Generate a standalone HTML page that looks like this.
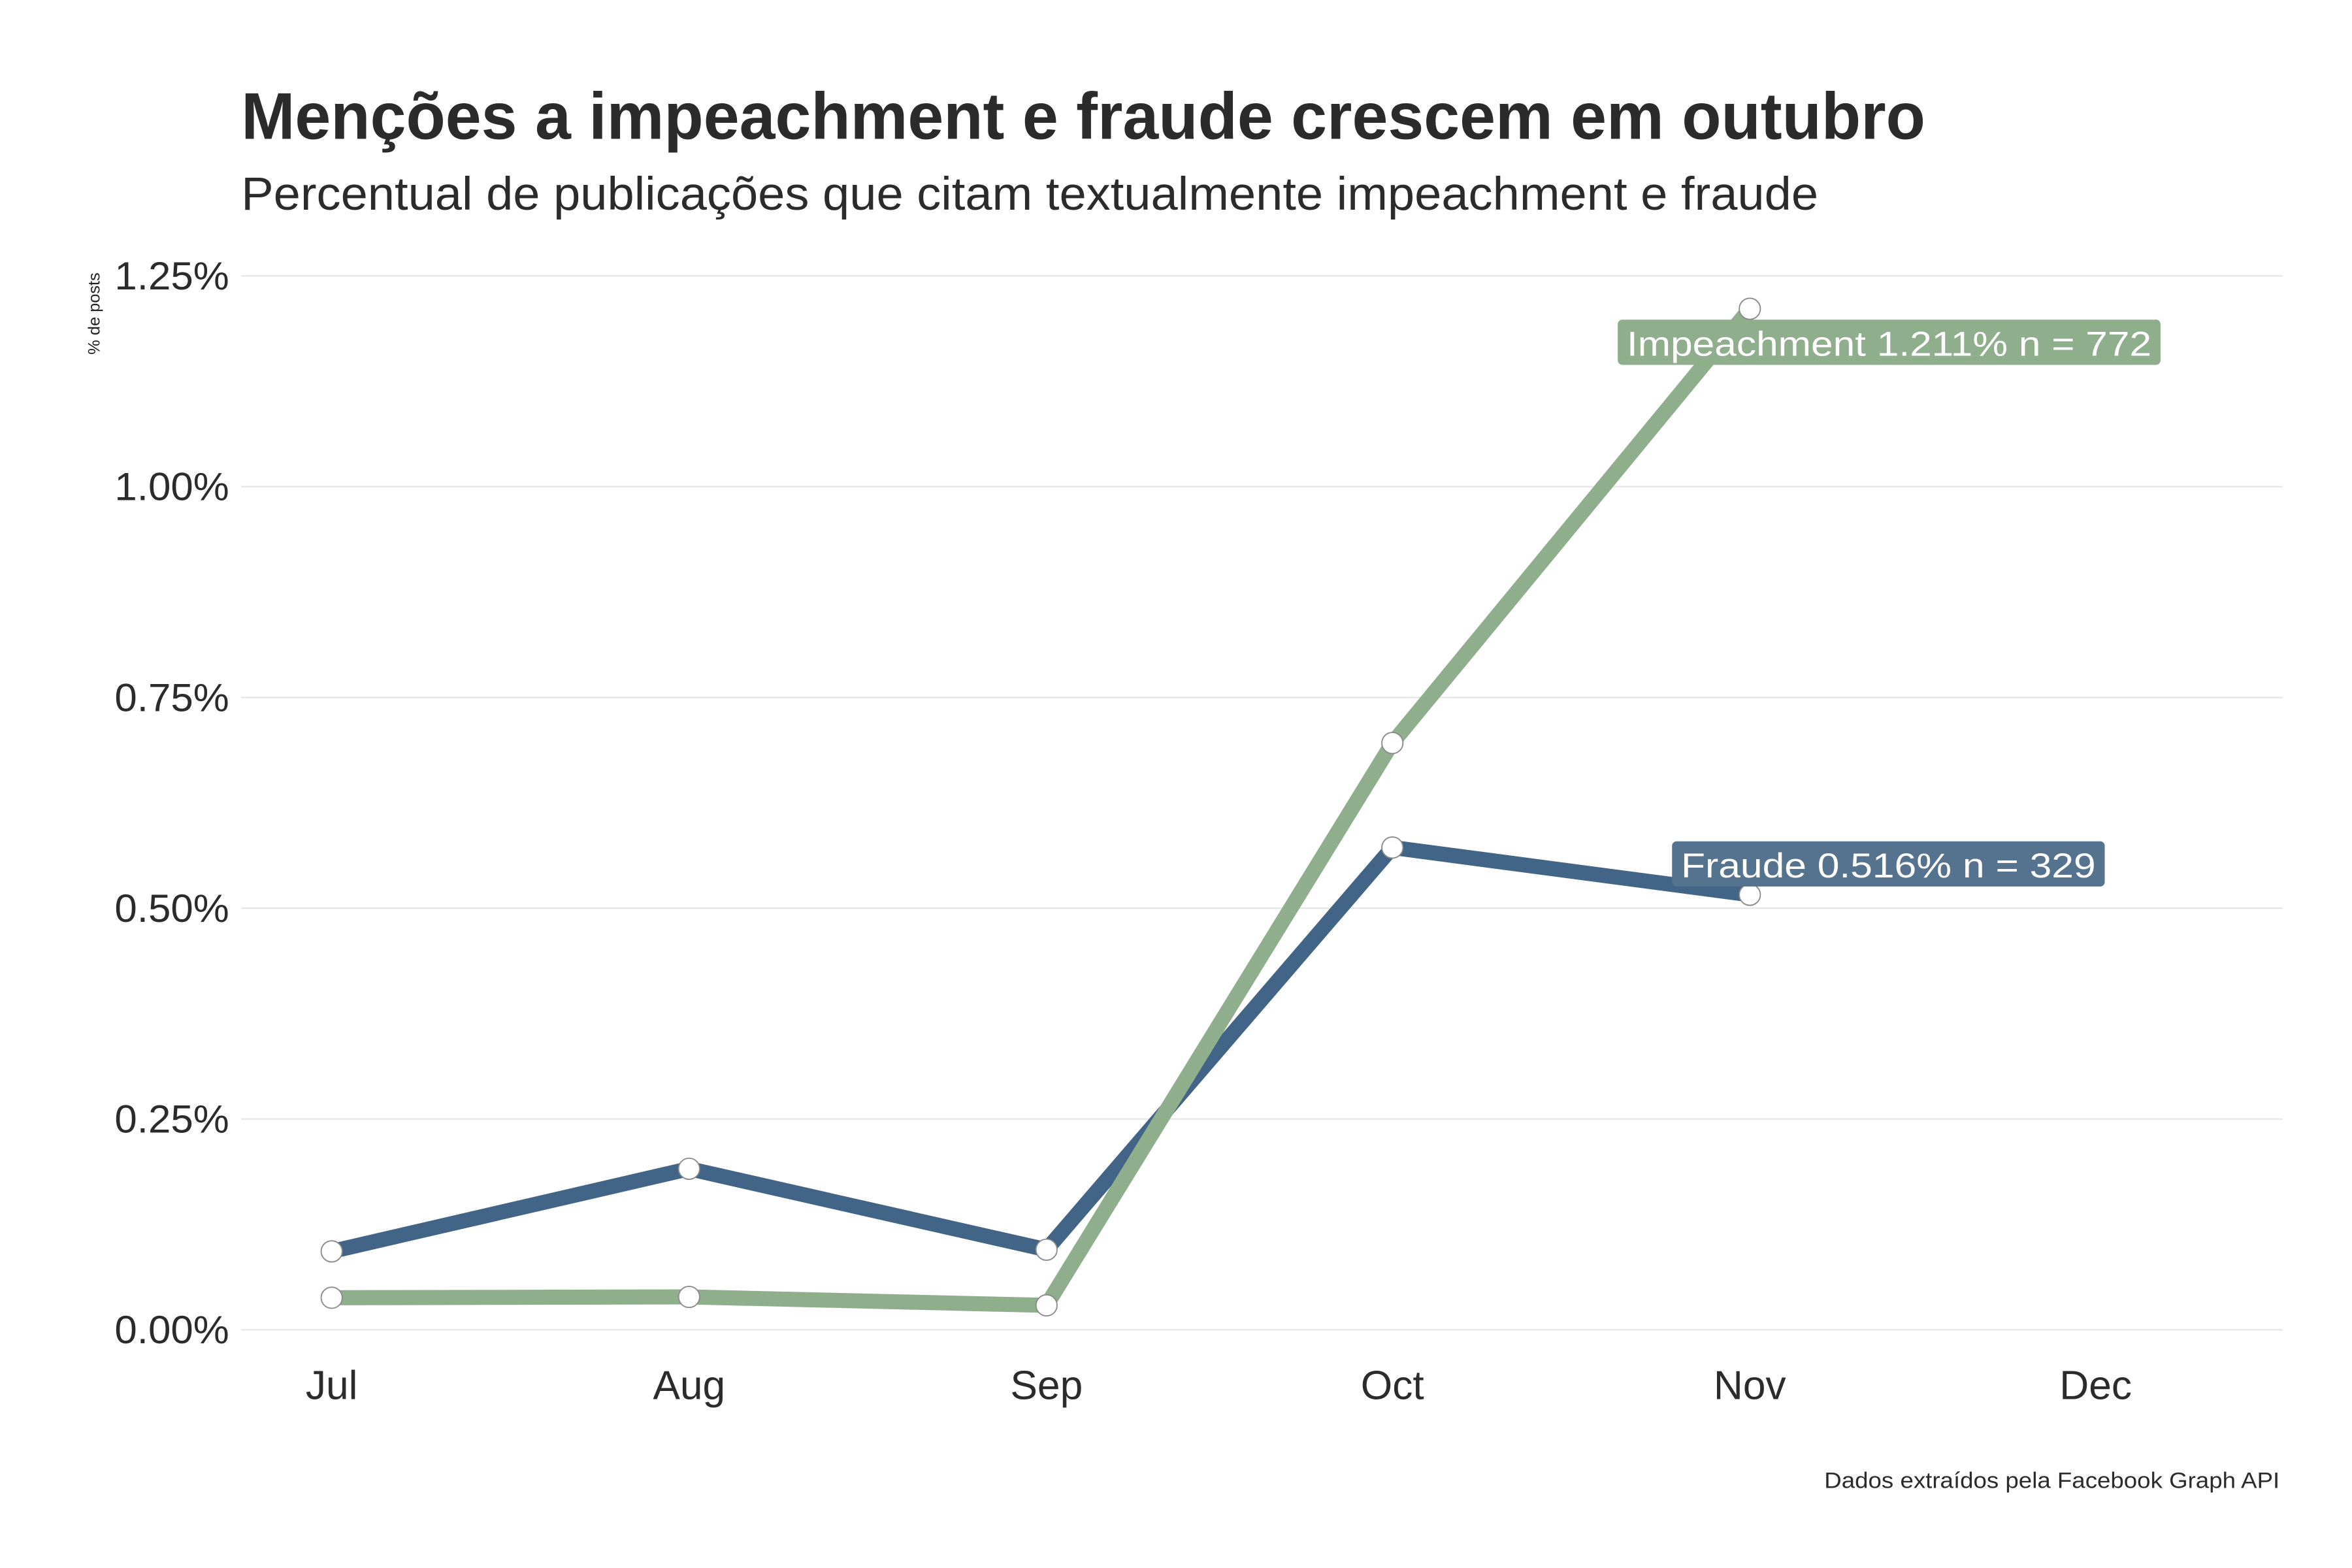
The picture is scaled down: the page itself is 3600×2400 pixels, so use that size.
<!DOCTYPE html>
<html><head><meta charset="utf-8"><style>html,body{margin:0;padding:0;background:#fff}svg{display:block}</style></head>
<body>
<svg id="chart" width="3600" height="2400" viewBox="0 0 1560 1040" xmlns="http://www.w3.org/2000/svg" font-family="Liberation Sans, sans-serif">
<rect width="1560" height="1040" fill="#fff"/>
<text x="160" y="92" font-size="44" font-weight="bold" fill="#2b2b2b" textLength="1117" lengthAdjust="spacingAndGlyphs">Menções a impeachment e fraude crescem em outubro</text>
<text x="160" y="139" font-size="31" fill="#2b2b2b" textLength="1046" lengthAdjust="spacingAndGlyphs">Percentual de publicações que citam textualmente impeachment e fraude</text>
<text transform="translate(66,208) rotate(-90)" text-anchor="middle" font-size="11" fill="#222">% de posts</text>
<text x="1512" y="987" text-anchor="end" font-size="15" fill="#2b2b2b" textLength="302" lengthAdjust="spacingAndGlyphs">Dados extraídos pela Facebook Graph API</text>
<g id="grid"></g><g id="series"></g><g id="labels"></g>
</svg>
<script>
const monthLabels = ["Jul","Aug","Sep","Oct","Nov","Dec"];
const monthDays = [0,31,62,92,123,153];
const yTicks = [0,0.25,0.5,0.75,1.0,1.25];
const yTickLabels = ["0.00%","0.25%","0.50%","0.75%","1.00%","1.25%"];
const fraudeValues = [0.093,0.191,0.095,0.572,0.516];
const impeachValues = [0.038,0.039,0.029,0.696,1.211];
const fraudeLabel = "Fraude 0.516% n =  329";
const impeachLabel = "Impeachment 1.211% n =  772";

const NS="http://www.w3.org/2000/svg";
const x = d => 220 + d*(1170/153);
const y = v => 882 - v*(699/1.25);
function mk(tag, attrs, parent){const e=document.createElementNS(NS,tag);for(const k in attrs)e.setAttribute(k,attrs[k]);parent.appendChild(e);return e;}
const grid=document.getElementById('grid'), series=document.getElementById('series'), labels=document.getElementById('labels');
yTicks.forEach((t,i)=>{
  const l=mk('line',{x1:160,x2:1514,y1:y(t),y2:y(t),stroke:'#e6e6e6','stroke-width':1},grid);
  
  
  const tx=mk('text',{x:152,y:y(t)+9,'text-anchor':'end','font-size':26,fill:'#2b2b2b',textLength:76,lengthAdjust:'spacingAndGlyphs'},grid);
  tx.textContent=yTickLabels[i];
  
  
});
monthLabels.forEach((m,i)=>{
  const tx=mk('text',{x:x(monthDays[i]),y:928,'text-anchor':'middle','font-size':27,fill:'#2b2b2b'},grid);
  tx.textContent=m;
  
  
});
function drawSeries(vals,color,name){
  const pts=vals.map((v,i)=>x(monthDays[i])+','+y(v)).join(' ');
  const pl=mk('polyline',{points:pts,fill:'none',stroke:color,'stroke-width':10,'stroke-linejoin':'round'},series);
  
  
  return pl;
}
function drawDots(vals,name){
  vals.forEach((v,i)=>{
    const c=mk('circle',{cx:x(monthDays[i]),cy:y(v),r:7,fill:'#fff',stroke:'#8a8a8a','stroke-width':0.8},series);
    
    
  });
}
drawSeries(fraudeValues,'#426587','fraude');
drawSeries(impeachValues,'#8fae8c','impeachment');
drawDots(fraudeValues,'fraude');
drawDots(impeachValues,'impeachment');
function label(txt,color,bx,by,w,name){
  const g=mk('g',{},labels);
  
  
  mk('rect',{x:bx,y:by,width:w,height:30,rx:3,fill:color},g);
  const t=mk('text',{x:bx+6,y:by+24,'font-size':23,fill:'#fff',textLength:w-12,lengthAdjust:'spacingAndGlyphs'},g);
  t.textContent=txt;
}
label(impeachLabel,'#8fae8c',1073,212,360,'impeachment-label');
label(fraudeLabel,'#55728f',1109,558,287,'fraude-label');
</script>
</body></html>
